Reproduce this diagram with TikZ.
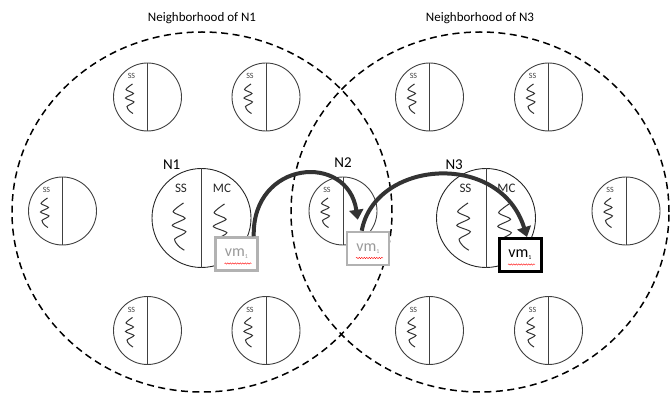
\documentclass[tikz,border=0pt]{standalone}
\usepackage{fontspec}
\setmainfont{Carlito}
\usepackage{tikz}
\usetikzlibrary{shapes.geometric,arrows.meta,positioning,calc,decorations.pathmorphing}
\tikzstyle{hood} = [ellipse, draw=black, line width=1.5pt, dash pattern=on 7pt off 4.5pt, minimum width=380pt, minimum height=360pt, inner sep=0pt]
\tikzstyle{sensor} = [circle, draw=black!75, line width=0.9pt, minimum size=68pt, inner sep=0pt]
\tikzstyle{host} = [sensor, draw=black!85, minimum size=99pt]
\tikzstyle{split} = [draw=black!75, line width=0.9pt]
\tikzstyle{sslabel} = [font=\fontsize{8}{8}\selectfont, text=black!75, inner sep=0pt]
\tikzstyle{hostlabel} = [font=\fontsize{13}{13}\selectfont, text=black!85, inner sep=0pt]
\tikzstyle{nlabel} = [font=\fontsize{15}{15}\selectfont, inner sep=0pt]
\tikzstyle{vmbox} = [rectangle, draw=black!30, line width=2.5pt, fill=white, minimum width=42pt, minimum height=33pt, font=\fontsize{16}{16}\selectfont, text=black!40]
\tikzstyle{spell} = [draw=red, line width=0.4pt, decorate, decoration={snake, amplitude=0.7pt, segment length=2.5pt}]
\tikzstyle{migrate} = [line width=4pt, draw=black!80, -{Triangle[length=10pt,width=14pt]}]
\tikzset{wiggle/.pic={\draw[black!80, line width=1pt] plot[smooth, tension=0.45] coordinates {(0,0) (-6.5,5.5) (1,9.5) (-7,14) (1.5,18) (-5.5,22.5) (-3,27) (0.5,29.5)};}}
\newcommand{\vmname}{vm\raisebox{-2pt}{\fontsize{6}{6}\selectfont 1}}

\begin{document}
\begin{tikzpicture}[x=1pt,y=-1pt]
	\useasboundingbox (0,0) rectangle (670,395);
	% neighborhoods
	\node[hood] (hood1) at (202,212) {};
	\node[hood, minimum width=378pt] (hood3) at (480,212) {};
	\node[font=\fontsize{13}{13}\selectfont, above=4pt of hood1.north] (title1) {Neighborhood of N1};
	\node[font=\fontsize{13}{13}\selectfont, above=4pt of hood3.north] (title3) {Neighborhood of N3};
	% plain sensors (N2 among them)
	\foreach \nm/\px/\py in {a1/147.5/97, a2/266/97, a3/429.5/97, a4/548.5/97, b1/62.5/211, b2/626/211, n2/343/211, c1/147.5/330.5, c2/266/330.5, c3/429.5/330.5, c4/548.5/330.5} {
		\node[sensor] (\nm) at (\px,\py) {};
		\draw[split] (\nm.north) -- (\nm.south);
		\node[sslabel] at ($(\nm)+(-16,-21)$) {SS};
		\pic at ($(\nm)+(-15,-13)$) {wiggle};
	}
	\node[nlabel, above=9pt of n2.north] (lab2) {N2};
	% hosts with migration controller
	\foreach \nm/\px in {n1/201.5, n3/486} {
		\node[host] (\nm) at (\px,218) {};
		\draw[split] (\nm.north) -- (\nm.south);
		\node[hostlabel] at ($(\nm)+(-20.5,-30)$) {SS};
		\node[hostlabel] at ($(\nm)+(20.5,-30)$) {MC};
		\pic[scale=1.6] at ($(\nm)+(-18,-15)$) {wiggle};
		\pic[scale=1.6] at ($(\nm)+(23,-14)$) {wiggle};
	}
	\node[nlabel, above left=-2pt and 21pt of n1.north] (lab1) {N1};
	\node[nlabel, above left=-2pt and 23pt of n3.north] (lab3) {N3};
	% the migrating vm
	\node[vmbox] (vm1) at (236.5,254) {\vmname};
	\node[vmbox] (vm2) at (368,248.5) {\vmname};
	\node[vmbox, draw=black, line width=3pt, text=black] (vm3) at (520,255) {\vmname};
	\foreach \b in {vm1,vm2,vm3}
		\draw[spell] ($(\b)+(-12,9.5)$) -- ++(27,0);
	\draw[migrate] ([xshift=-5pt]vm1.north east) .. controls +(-2,-76) and +(-10,-68) .. ([xshift=12pt,yshift=11pt]vm2.north west);
	\draw[migrate] ([xshift=16pt]vm2.north west) .. controls +(13,-71) and +(-27,-87) .. ([xshift=7pt]vm3.north);
\end{tikzpicture}
\end{document}
